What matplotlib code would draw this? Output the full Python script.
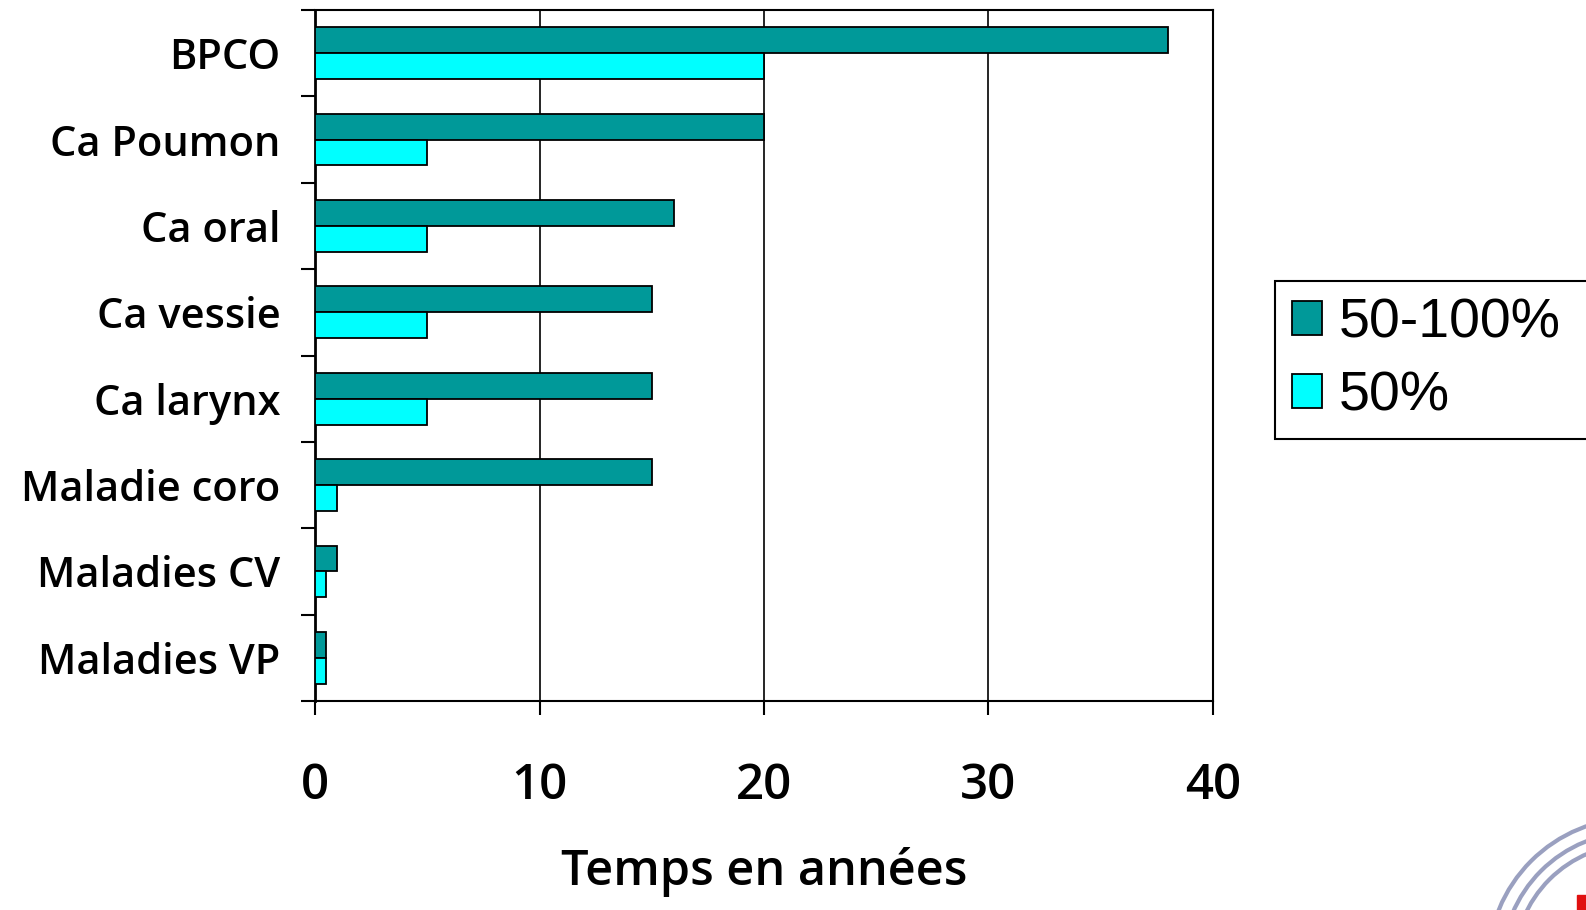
import numpy as np
from matplotlib import pyplot as plt
from matplotlib.patches import Arc, Rectangle
from matplotlib.ticker import FixedLocator

categories = ["BPCO", "Ca Poumon", "Ca oral", "Ca vessie", "Ca larynx",
              "Maladie coro", "Maladies CV", "Maladies VP"]
full_values = [38, 20, 16, 15, 15, 15, 1, 0.5]   # 50-100%
half_values = [20, 5, 5, 5, 5, 1, 0.5, 0.5]      # 50%
series_labels = ["50-100%", "50%"]
x_ticks = [0, 10, 20, 30, 40]

dark = "#009999"
light = "#00FFFF"

fig = plt.figure(figsize=(15.86, 9.10), dpi=100)
ax = fig.add_axes([315 / 1586, 1 - 701 / 910, (1213 - 315) / 1586, (701 - 10) / 910])

y = np.arange(len(categories))
h = 0.3
b1 = ax.barh(y - h / 2, full_values, height=h, color=dark, edgecolor="black", linewidth=1.3,
             label=series_labels[0], zorder=3)
b2 = ax.barh(y + h / 2, half_values, height=h, color=light, edgecolor="black", linewidth=1.3,
             label=series_labels[1], zorder=3)

ax.set_xlim(0, 40)
ax.set_ylim(len(categories) - 0.5, -0.5)

# x axis
ax.set_xticks(x_ticks)
ax.set_xticklabels([str(v) for v in x_ticks], fontsize=35.5, fontweight="semibold",
                   family="Open Sans")
ax.tick_params(axis="x", direction="out", length=10, width=1.5, pad=34)
ax.grid(axis="x", color="black", linewidth=1.2, zorder=0)
ax.set_xlabel("Temps en années", fontsize=35, family="Open Sans", fontweight="semibold",
              labelpad=26)

# y axis: labels at centres, tick marks between groups
ax.set_yticks(y)
ax.set_yticklabels(categories, fontsize=30, family="Open Sans", fontweight="semibold")
ax.tick_params(axis="y", which="major", length=0, pad=25)
ax.yaxis.set_minor_locator(FixedLocator(np.arange(-0.5, len(categories), 1)))
ax.tick_params(axis="y", which="minor", direction="out", length=10, width=1.5)

for s in ax.spines.values():
    s.set_linewidth(1.5)
ax.spines["left"].set_linewidth(2)

leg = fig.legend(handles=[b1, b2], loc="upper left", mode="expand",
                 bbox_to_anchor=(1275 / 1586, 1 - 281 / 910, 340 / 1586, 0),
                 prop={"family": "Liberation Sans", "size": 40},
                 frameon=True, fancybox=False, edgecolor="black", framealpha=1,
                 handlelength=0.55, handleheight=0.55, handletextpad=0.3,
                 labelspacing=0.38, borderpad=0.3, borderaxespad=0)
leg.get_frame().set_linewidth(1.5)

# logo arcs, bottom right corner
for r in [147, 133, 121]:
    fig.patches.append(Arc((1635, -55), 2 * r, 2 * r, theta1=90, theta2=180,
                           transform=None, color="#9aa0c0", linewidth=3))
fig.patches.append(Rectangle((1577, 0), 9, 15, transform=None, color="#e01010"))

fig.savefig("out.png", dpi=100)
